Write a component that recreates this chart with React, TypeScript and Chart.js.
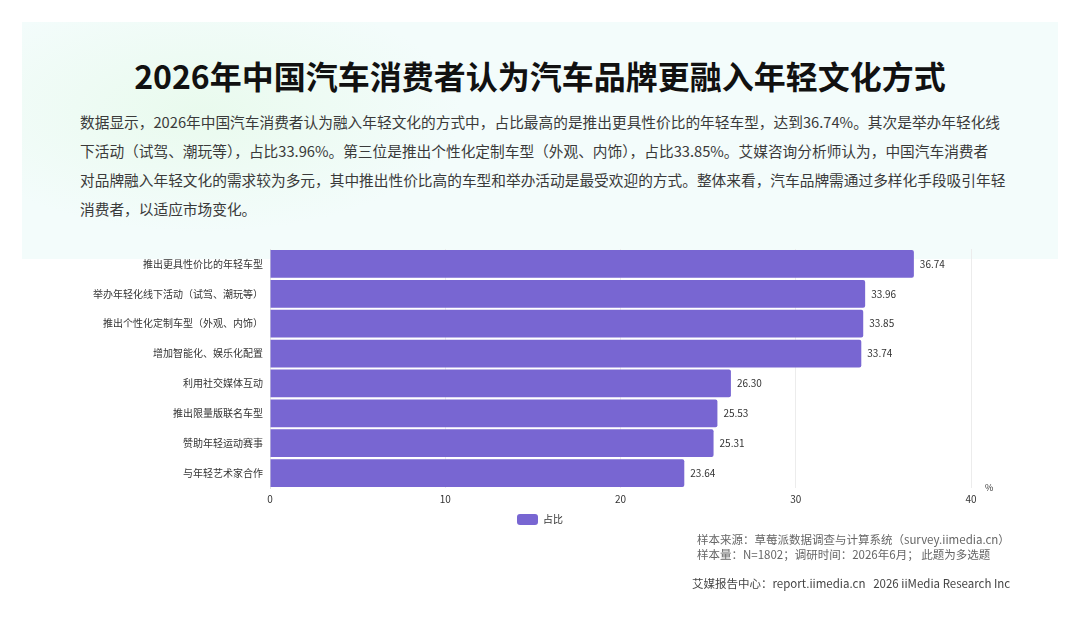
import React, { useEffect, useRef } from "react";
import { Chart, registerables } from "chart.js";

Chart.register(...registerables);

const titleText = "2026年中国汽车消费者认为汽车品牌更融入年轻文化方式";
const paragraphLines = [
  "数据显示，2026年中国汽车消费者认为融入年轻文化的方式中，占比最高的是推出更具性价比的年轻车型，达到36.74%。其次是举办年轻化线",
  "下活动（试驾、潮玩等），占比33.96%。第三位是推出个性化定制车型（外观、内饰），占比33.85%。艾媒咨询分析师认为，中国汽车消费者",
  "对品牌融入年轻文化的需求较为多元，其中推出性价比高的车型和举办活动是最受欢迎的方式。整体来看，汽车品牌需通过多样化手段吸引年轻",
  "消费者，以适应市场变化。",
];
const categories = [
  "推出更具性价比的年轻车型",
  "举办年轻化线下活动（试驾、潮玩等）",
  "推出个性化定制车型（外观、内饰）",
  "增加智能化、娱乐化配置",
  "利用社交媒体互动",
  "推出限量版联名车型",
  "赞助年轻运动赛事",
  "与年轻艺术家合作",
];
const shareValues = [36.74, 33.96, 33.85, 33.74, 26.3, 25.53, 25.31, 23.64];
const seriesName = "占比";
const xTicks = [0, 10, 20, 30, 40];
const unitLabel = "%";
const footerLines = [
  "样本来源：草莓派数据调查与计算系统（survey.iimedia.cn）",
  "样本量：N=1802；调研时间：2026年6月； 此题为多选题",
];
const footerCredit = "艾媒报告中心：report.iimedia.cn   2026 iiMedia Research Inc";

const FONT = '"Noto Sans CJK SC", "Noto Sans", sans-serif';
const BAR_COLOR = "#7866d2";

export default function App() {
  const canvasRef = useRef<HTMLCanvasElement | null>(null);

  useEffect(() => {
    document.body.style.margin = "0";
    const canvas = canvasRef.current;
    if (!canvas) return;

    const valueLabels = {
      id: "valueLabels",
      afterDatasetsDraw(chart: any) {
        const ctx = chart.ctx;
        const meta = chart.getDatasetMeta(0);
        ctx.save();
        ctx.font = `10px ${FONT}`;
        ctx.fillStyle = "#333";
        ctx.textAlign = "left";
        ctx.textBaseline = "middle";
        meta.data.forEach((bar: any, i: number) => {
          ctx.fillText(shareValues[i].toFixed(2), bar.x + 6, bar.y);
        });
        const area = chart.chartArea;
        ctx.font = `9px ${FONT}`;
        ctx.fillText(unitLabel, area.right + 14, area.bottom);
        ctx.restore();
      },
    };

    const chart = new Chart(canvas, {
      type: "bar",
      data: {
        labels: categories,
        datasets: [
          {
            label: seriesName,
            data: shareValues,
            backgroundColor: BAR_COLOR,
            borderRadius: 2,
            borderSkipped: "start",
            barPercentage: 0.93,
            categoryPercentage: 1,
          },
        ],
      },
      options: {
        indexAxis: "y",
        animation: false,
        responsive: false,
        maintainAspectRatio: false,
        layout: { padding: { top: 0, right: 0, bottom: 7, left: 0 } },
        scales: {
          x: {
            min: 0,
            max: 40,
            afterBuildTicks(scale: any) {
              scale.ticks = xTicks.map((v) => ({ value: v }));
            },
            grid: { color: "#ececec", drawTicks: false },
            border: { display: false },
            ticks: {
              color: "#333",
              font: { size: 10, family: FONT },
              padding: 5,
            },
          },
          y: {
            afterFit(scale: any) {
              scale.width = 270;
            },
            grid: { display: false, drawTicks: false },
            border: { display: true, color: "#e2e2e2" },
            ticks: {
              color: "#333",
              font: { size: 10, family: FONT },
              padding: 7,
            },
          },
          yRight: {
            type: "category",
            position: "right",
            afterFit(scale: any) {
              scale.width = 109;
            },
            grid: { display: false, drawTicks: false },
            border: { display: false },
            ticks: { display: false },
          },
        },
        plugins: {
          legend: {
            display: true,
            position: "bottom",
            labels: {
              boxWidth: 21,
              boxHeight: 11,
              useBorderRadius: true,
              borderRadius: 3,
              color: "#333",
              font: { size: 10, family: FONT },
              padding: 4,
            },
          },
          tooltip: { enabled: false },
        },
      },
      plugins: [valueLabels],
    });

    return () => chart.destroy();
  }, []);

  return (
    <div
      style={{
        position: "absolute",
        left: 0,
        top: 0,
        width: 1080,
        height: 623,
        background: "#ffffff",
        overflow: "hidden",
        fontFamily: FONT,
      }}
    >
      <div
        style={{
          position: "absolute",
          left: 22,
          top: 22,
          width: 1036,
          height: 237,
          background:
            "radial-gradient(ellipse 260px 120px at 180px 90px, rgba(232,250,236,0.9), rgba(232,250,236,0) 100%), #f3fcfb",
        }}
      />
      <div
        style={{
          position: "absolute",
          left: 0,
          top: 54,
          width: 1080,
          textAlign: "center",
          fontSize: 32,
          fontWeight: 700,
          color: "#111",
          lineHeight: "42px",
          whiteSpace: "nowrap",
        }}
      >
        {titleText}
      </div>
      <div
        style={{
          position: "absolute",
          left: 80,
          top: 107,
          fontSize: 14.7,
          color: "#3a3a3a",
          lineHeight: "29px",
        }}
      >
        {paragraphLines.map((line, i) => (
          <div key={i} style={{ whiteSpace: "nowrap" }}>
            {line}
          </div>
        ))}
      </div>
      <canvas
        ref={canvasRef}
        width={1080}
        height={306}
        style={{ position: "absolute", left: 0, top: 236, width: 1080, height: 306 }}
      />
      <div
        style={{
          position: "absolute",
          left: 697,
          top: 532,
          fontSize: 11.5,
          color: "#666",
          lineHeight: "15px",
          whiteSpace: "pre",
        }}
      >
        {footerLines.map((line, i) => (
          <div key={i}>{line}</div>
        ))}
      </div>
      <div
        style={{
          position: "absolute",
          left: 692,
          top: 574,
          fontSize: 11.5,
          color: "#444",
          lineHeight: "18px",
          whiteSpace: "pre",
        }}
      >
        {footerCredit}
      </div>
    </div>
  );
}
